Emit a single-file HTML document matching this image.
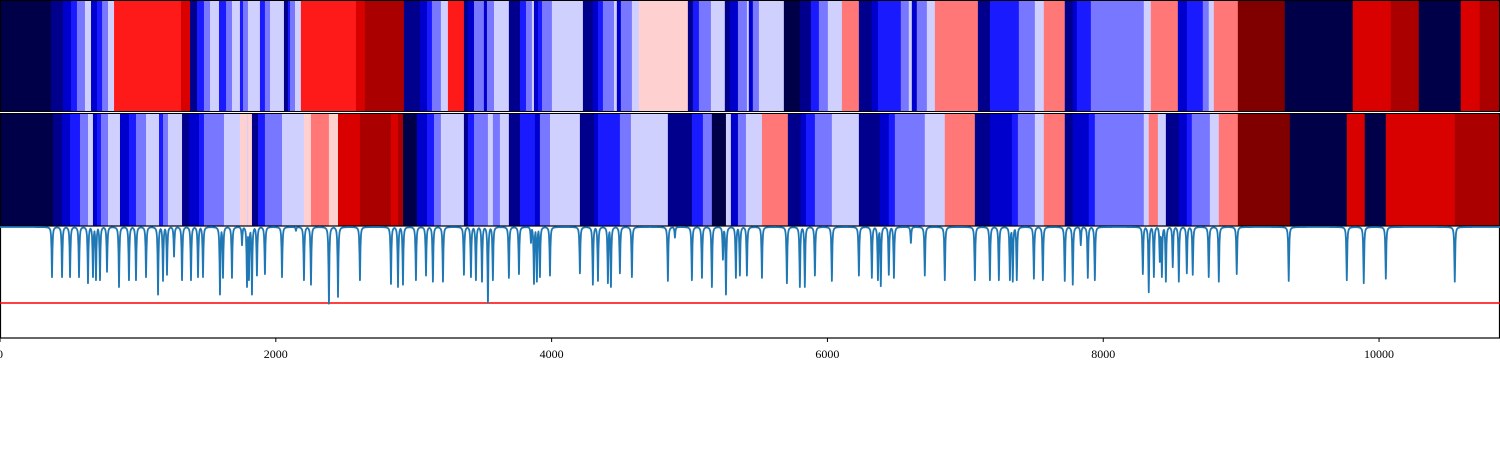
<!DOCTYPE html>
<html><head><meta charset="utf-8"><style>
html,body{margin:0;padding:0;background:#fff;width:1500px;height:450px;overflow:hidden}
svg{display:block}
</style></head><body>
<svg id="chart" width="1500" height="450" xmlns="http://www.w3.org/2000/svg">
<g id="strip1"></g>
<g id="strip2"></g>
<g id="plot"></g>
<g id="xaxis"></g>
</svg>
<script>
const palette = ["#000048","#00008c","#0000cc","#1a1aff","#7777ff","#d0d0ff","#ffd0d0","#ff7777","#ff1a1a","#d90000","#aa0000","#800000"];
const topStarts = [0,370,457,515,558,616,660,703,740,783,827,1312,1378,1428,1479,1523,1588,1639,1682,1740,1762,1798,1885,1921,1958,2059,2088,2103,2139,2182,2581,2646,2929,3045,3096,3132,3197,3248,3364,3393,3437,3509,3531,3582,3690,3770,3814,3857,3872,3901,3930,4002,4227,4299,4336,4372,4452,4473,4502,4582,4633,4988,5024,5068,5155,5256,5293,5351,5416,5430,5459,5503,5684,5800,5880,5938,6003,6105,6228,6322,6366,6532,6590,6612,6648,6721,6779,7091,7178,7388,7504,7569,7721,7779,7808,7910,8294,8345,8541,8606,8722,8765,8802,8976,9316,9809,10085,10288,10592,10730];
const topLevels = [0,1,2,3,4,5,2,3,4,5,8,9,1,3,4,5,3,4,5,3,4,5,3,4,5,1,3,4,5,8,9,10,1,2,3,4,5,8,1,2,4,2,4,5,1,3,4,5,2,3,4,5,1,2,3,4,5,2,4,5,6,1,3,4,5,1,2,4,5,2,4,5,0,1,3,4,5,7,1,2,3,4,5,2,4,5,7,1,3,4,5,7,1,2,3,4,5,7,2,3,4,5,7,11,0,9,10,0,9,10];
const midStarts = [0,384,450,508,580,638,674,703,732,783,870,935,986,1059,1153,1182,1218,1320,1370,1443,1479,1624,1740,1791,1798,1827,1871,1921,2045,2204,2255,2385,2451,2610,2835,2886,2922,3023,3096,3147,3197,3364,3393,3437,3538,3574,3625,3690,3770,3879,3915,3988,4205,4307,4336,4495,4575,4843,5017,5097,5162,5264,5300,5351,5409,5525,5713,5807,5844,5909,6032,6228,6380,6445,6489,6706,6851,7069,7178,7337,7381,7504,7569,7721,7779,7895,7939,8294,8330,8396,8454,8548,8606,8642,8773,8838,8976,9353,9766,9896,10049,10549];
const midLevels = [0,1,2,3,4,5,2,3,4,5,2,3,4,5,3,4,5,1,2,3,4,5,6,5,6,1,3,4,5,6,7,6,9,10,9,10,0,2,3,4,5,1,3,4,5,4,5,1,3,2,4,5,1,2,3,4,5,1,3,4,0,5,2,4,5,7,1,2,3,4,5,1,2,3,4,5,7,1,2,3,4,5,7,1,2,3,4,5,7,5,1,2,3,4,5,7,11,0,9,0,9,10];
const dipPos = [377,450,508,573,638,674,696,725,776,863,935,986,1059,1146,1182,1211,1262,1320,1385,1436,1472,1595,1617,1682,1755,1791,1805,1827,1863,1921,2045,2146,2204,2255,2385,2451,2610,2835,2886,2922,3016,3089,3139,3212,3364,3415,3451,3495,3538,3574,3690,3763,3850,3872,3893,3915,3988,4205,4299,4336,4408,4430,4495,4582,4843,4894,5017,5090,5162,5242,5264,5336,5365,5416,5525,5706,5800,5836,5909,6032,6228,6322,6366,6387,6445,6482,6605,6706,6851,7069,7178,7243,7323,7344,7373,7497,7562,7721,7779,7837,7888,7939,8287,8330,8367,8410,8425,8454,8504,8548,8606,8649,8765,8838,8968,9345,9766,9889,10049,10549];
const dipDepth = [0.66,0.66,0.66,0.66,0.74,0.66,0.70,0.70,0.59,0.79,0.70,0.70,0.66,0.89,0.71,0.63,0.39,0.70,0.70,0.66,0.66,0.89,0.67,0.67,0.24,0.79,0.70,0.89,0.64,0.62,0.66,0.05,0.70,0.76,1.01,0.92,0.70,0.75,0.79,0.76,0.70,0.64,0.72,0.72,0.63,0.66,0.70,0.72,1.0,0.70,0.67,0.62,0.21,0.75,0.72,0.66,0.64,0.61,0.76,0.71,0.74,0.79,0.61,0.66,0.71,0.14,0.70,0.67,0.79,0.43,0.89,0.67,0.64,0.64,0.67,0.74,0.79,0.79,0.64,0.71,0.64,0.67,0.70,0.78,0.63,0.67,0.21,0.64,0.70,0.70,0.70,0.70,0.70,0.72,0.70,0.68,0.70,0.71,0.76,0.24,0.67,0.70,0.62,0.86,0.66,0.46,0.66,0.72,0.53,0.72,0.61,0.63,0.66,0.72,0.62,0.71,0.70,0.74,0.68,0.72];
const threshold = -1;
const xTicks = [0,2000,4000,6000,8000,10000];
const xMax = 10877;

const NS="http://www.w3.org/2000/svg";
const X = v => v/xMax*1500;
const Y = v => 227 - v*76;
function mk(tag, attrs, parent){const e=document.createElementNS(NS,tag);for(const k in attrs)e.setAttribute(k,attrs[k]);parent.appendChild(e);return e;}

function drawStrip(g, starts, levels, y0, h){
  const n=Math.min(starts.length, levels.length);
  for(let i=0;i<n;i++){
    const x0=X(starts[i]); const x1= i+1<n?X(starts[i+1]):1500;
    const r=mk('rect',{x:x0,y:y0,width:Math.max(0,x1-x0)+0.5,height:h,fill:palette[levels[i]]},g);
    
    
  }
  const f=mk('rect',{x:0.5,y:y0,width:1499,height:h,fill:'none',stroke:'#000','stroke-width':1},g);
  
  
}
drawStrip(document.getElementById('strip1'), topStarts, topLevels, 0.5, 111);
drawStrip(document.getElementById('strip2'), midStarts, midLevels, 113.5, 112.5);

const plot=document.getElementById('plot');
const frame=mk('rect',{x:0.5,y:226,width:1499,height:112,fill:'#fff',stroke:'#000','stroke-width':1.2},plot);


const thr=mk('line',{x1:0,x2:1500,y1:Y(threshold),y2:Y(threshold),stroke:'#ff0000','stroke-width':1.6},plot);


const gam=3.2;
function valAt(xv){
  let v=0;
  for(let i=0;i<dipPos.length;i++){
    const t=(xv-dipPos[i])/gam;
    const c=-dipDepth[i]/(1+t*t);
    if(c<v)v=c;
  }
  return v;
}
const xs=[];
for(let px=0;px<=1500;px+=0.5) xs.push(px/1500*xMax);
dipPos.forEach(p=>xs.push(p));
xs.sort((a,b)=>a-b);
let d='';
xs.forEach((xv,i)=>{d+=(i===0?'M':'L')+X(xv).toFixed(2)+','+Y(valAt(xv)).toFixed(2);});
const line=mk('path',{d:d,fill:'none',stroke:'#1f77b4','stroke-width':1.8,'stroke-linejoin':'round'},plot);



const ax=document.getElementById('xaxis');
xTicks.forEach(t=>{
  const tk=mk('line',{x1:X(t),x2:X(t),y1:338,y2:342,stroke:'#000','stroke-width':1},ax);
  
  
  const lb=mk('text',{x:X(t),y:358,'text-anchor':'middle','font-family':'"Liberation Serif", serif','font-size':12,fill:'#000'},ax);
  lb.textContent=t;
  
  
});
</script>
</body></html>
